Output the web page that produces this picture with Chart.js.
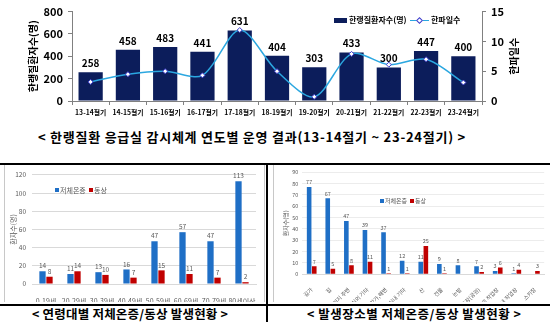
<!DOCTYPE html>
<html>
<head>
<meta charset="utf-8">
<script src="https://cdn.jsdelivr.net/npm/chart.js@4.4.1/dist/chart.umd.min.js"></script>
<style>
  body { margin:0; width:550px; height:322px; overflow:hidden; background:#fff; position:relative;
         font-family:'Noto Sans CJK KR', sans-serif; }
  .abs { position:absolute; }
  .cap { position:absolute; font-weight:bold; color:#000; white-space:nowrap; }
  .lg  { position:absolute; white-space:nowrap; }
  .sq  { position:absolute; }
</style>
</head>
<body>

<!-- top chart -->
<canvas id="seasonChart" class="abs" width="550" height="122" style="left:0;top:0"></canvas>
<div class="sq" style="left:334px;top:18px;width:13px;height:5px;background:#0c1d5b"></div>
<div class="lg" style="left:349px;top:14px;font:bold 8px/12px 'Noto Sans CJK KR';">한랭질환자수(명)</div>
<div class="sq" style="left:410px;top:20px;width:19px;height:0;border-top:1.5px solid #2ba7e0"></div>
<div class="sq" style="left:417px;top:18px;width:3px;height:3px;background:#fff;border:1px solid #3d3dcc;transform:rotate(45deg)"></div>
<div class="lg" style="left:431px;top:14px;font:bold 8px/12px 'Noto Sans CJK KR';">한파일수</div>

<div class="cap" style="left:38px;top:129px;font-size:13px;line-height:16px;letter-spacing:0.75px">&lt; 한랭질환 응급실 감시체계 연도별 운영 결과(13-14절기 ~ 23-24절기) &gt;</div>

<!-- frame lines -->
<div class="abs" style="left:0;top:163px;width:550px;height:2px;background:#000"></div>
<div class="abs" style="left:266px;top:164px;width:1.5px;height:158px;background:#000"></div>
<div class="abs" style="left:0;top:304px;width:550px;height:1.5px;background:#000"></div>

<!-- bottom left -->
<div class="abs" style="left:4px;top:165px;width:261px;height:137px;border-left:1px solid #c8c8c8;border-right:1px solid #c8c8c8;box-sizing:border-box"></div>
<canvas id="ageChart" class="abs" width="260" height="137" style="left:5px;top:165px"></canvas>
<div class="sq" style="left:55px;top:188px;width:4px;height:4px;background:#1f6fc6"></div>
<div class="lg" style="left:60px;top:185px;font:7px/10px 'Noto Sans CJK KR';color:#595959">저체온증</div>
<div class="sq" style="left:89px;top:188px;width:4px;height:4px;background:#c00000"></div>
<div class="lg" style="left:94px;top:185px;font:7px/10px 'Noto Sans CJK KR';color:#595959">동상</div>
<div class="cap" style="left:32px;top:306px;font-size:12.5px;line-height:16px;letter-spacing:0.2px">&lt; 연령대별 저체온증/동상 발생현황 &gt;</div>

<!-- bottom right -->
<div class="abs" style="left:273px;top:165px;width:277px;height:137px;border-left:1px solid #c8c8c8;box-sizing:border-box"></div>
<canvas id="placeChart" class="abs" width="277" height="137" style="left:273px;top:165px"></canvas>
<div class="sq" style="left:380px;top:199px;width:4px;height:4px;background:#1f6fc6"></div>
<div class="lg" style="left:385px;top:196px;font:6px/10px 'Noto Sans CJK KR';color:#595959">저체온증</div>
<div class="sq" style="left:410px;top:199px;width:4px;height:4px;background:#c00000"></div>
<div class="lg" style="left:415px;top:196px;font:6px/10px 'Noto Sans CJK KR';color:#595959">동상</div>
<div class="cap" style="left:307px;top:306px;font-size:12.5px;line-height:16px;letter-spacing:0.5px">&lt; 발생장소별 저체온증/동상 발생현황 &gt;</div>

<script>
// ── Data ─────────────────────────────────────────────────────
const SEASONS   = ['13-14절기','14-15절기','15-16절기','16-17절기','17-18절기','18-19절기',
                   '19-20절기','20-21절기','21-22절기','22-23절기','23-24절기'];
const PATIENTS  = [258, 458, 483, 441, 631, 404, 303, 433, 300, 447, 400];
const COLD_DAYS = [3.2, 4.5, 5.0, 4.3, 11.9, 5.0, 0.7, 7.9, 6.1, 7.0, 3.1];

const AGE_GROUPS = ['0-19세','20-29세','30-39세','40-49세','50-59세','60-69세','70-79세','80세이상'];
const AGE_HYPO   = [14, 11, 13, 16, 47, 57, 47, 113];
const AGE_FROST  = [8, 14, 10, 7, 15, 11, 7, 2];

const PLACES      = ['길가','집','주거지 주변','실외 기타','강가,해변','실내 기타','산','건물','논밭',
                     '운동장(공원)','실외 작업장','실내 작업장','스키장'];
const PLACE_HYPO  = [77, 67, 47, 39, 37, 12, 11, 9, 8, 7, 3, 1, null];
const PLACE_FROST = [7, 5, 8, 11, 1, 1, 25, 1, null, 2, 6, 4, 3];

const FONT = "'Noto Sans CJK KR', sans-serif";
const BLUE = '#1f6fc6', RED = '#c00000', NAVY = '#0c1d5b', GREY = '#595959';

// ── Plugins ──────────────────────────────────────────────────
const valueLabels = {
  id:'valueLabels',
  afterDatasetsDraw(chart, args, opts) {
    const ctx = chart.ctx;
    ctx.save();
    ctx.font = opts.font; ctx.fillStyle = opts.color;
    ctx.textAlign = 'center'; ctx.textBaseline = 'bottom';
    chart.data.datasets.forEach((ds, i) => {
      if (ds.type === 'line') return;
      chart.getDatasetMeta(i).data.forEach((el, j) => {
        if (ds.data[j] == null) return;
        ctx.fillText(ds.data[j], el.x, el.y - opts.gap);
      });
    });
    ctx.restore();
  }
};

// right-hand title, read bottom to top like the left one
const sideTitle = {
  id:'sideTitle',
  afterDraw(chart, args, opts) {
    const ctx = chart.ctx, a = chart.chartArea;
    ctx.save();
    ctx.translate(opts.x, (a.top + a.bottom) / 2);
    ctx.rotate(-Math.PI / 2);
    ctx.font = opts.font; ctx.fillStyle = '#000';
    ctx.textAlign = 'center'; ctx.textBaseline = 'middle';
    ctx.fillText(opts.text, 0, 0);
    ctx.restore();
  }
};

// ── Top: season chart ────────────────────────────────────────
const axisGrid = { drawOnChartArea:false, drawTicks:true, tickLength:4, color:'#808080' };

new Chart(document.getElementById('seasonChart'), {
  type:'bar',
  data:{
    labels: SEASONS,
    datasets:[
      { type:'line', label:'한파일수', data:COLD_DAYS, yAxisID:'y1', order:0,
        borderColor:'#2ba7e0', borderWidth:1.5, tension:0.3,
        pointStyle:'rectRot', pointRadius:2.5, pointBackgroundColor:'#fff',
        pointBorderColor:'#3d3dcc', pointBorderWidth:1 },
      { label:'한랭질환자수(명)', data:PATIENTS, yAxisID:'y', order:1,
        backgroundColor:NAVY, barPercentage:0.65, categoryPercentage:1 }
    ]
  },
  options:{
    responsive:false, animation:false,
    layout:{ padding:{ top:8, right:0, left:0, bottom:0 } },
    plugins:{
      legend:{ display:false }, tooltip:{ enabled:false },
      valueLabels:{ font:`bold 10px ${FONT}`, color:'#000', gap:4 },
      sideTitle:{ text:'한파일수', x:514, font:`bold 10px ${FONT}` }
    },
    scales:{
      x:{ grid:axisGrid, border:{ color:'#808080' },
          ticks:{ font:{ family:FONT, size:6.8, weight:'bold' }, color:'#000', padding:3, maxRotation:0, autoSkip:false },
          afterFit(s){ s.height = 21; } },
      y:{ min:0, max:800, grid:axisGrid, border:{ color:'#808080' },
          ticks:{ stepSize:200, font:{ family:FONT, size:11, weight:'bold' }, color:'#000', padding:5 },
          title:{ display:true, text:'한랭질환자수(명)', color:'#000', padding:{ top:27, bottom:0 },
                  font:{ family:FONT, size:10, weight:'bold' } },
          afterFit(s){ s.width = 72; } },
      y1:{ position:'right', min:0, max:15, grid:axisGrid, border:{ color:'#808080' },
           ticks:{ stepSize:5, font:{ family:FONT, size:11, weight:'bold' }, color:'#000', padding:5 },
           afterFit(s){ s.width = 68; } }
    }
  },
  plugins:[valueLabels, sideTitle]
});

// ── Bottom: two grouped bar charts ───────────────────────────
function groupedBars(id, labels, hypo, frost, cfg) {
  return new Chart(document.getElementById(id), {
    type:'bar',
    data:{
      labels,
      datasets:[
        { label:'저체온증', data:hypo,  backgroundColor:BLUE, barPercentage:0.9, categoryPercentage:cfg.cat },
        { label:'동상',     data:frost, backgroundColor:RED,  barPercentage:0.9, categoryPercentage:cfg.cat }
      ]
    },
    options:{
      responsive:false, animation:false,
      layout:{ padding:{ top:cfg.top, right:cfg.right, left:0, bottom:0 } },
      plugins:{
        legend:{ display:false }, tooltip:{ enabled:false },
        valueLabels:{ font:`${cfg.lblSize}px ${FONT}`, color:GREY, gap:2 }
      },
      scales:{
        x:{ grid:{ display:false }, border:{ color:'#d9d9d9' },
            ticks:{ font:{ family:FONT, size:cfg.xSize }, color:GREY, padding:cfg.xPad,
                    autoSkip:false, minRotation:cfg.rot, maxRotation:cfg.rot },
            afterFit(s){ s.height = cfg.xH; } },
        y:{ min:0, max:cfg.max, border:{ display:false },
            grid:{ color:cfg.gridColor, drawTicks:false },
            ticks:{ stepSize:cfg.step, font:{ family:FONT, size:cfg.ySize }, color:GREY, padding:cfg.yPad },
            title:{ display:true, text:'환자수(명)', color:GREY, padding:{ top:cfg.tPad, bottom:0 },
                    font:{ family:FONT, size:cfg.tSize } },
            afterFit(s){ s.width = cfg.yW; } }
      }
    },
    plugins:[valueLabels]
  });
}

groupedBars('ageChart', AGE_GROUPS, AGE_HYPO, AGE_FROST, {
  cat:0.5, top:9.3, right:9, max:120, step:20, gridColor:'#d9d9d9',
  xSize:7, xPad:5, rot:0, xH:18, ySize:6.5, yPad:6, yW:27,
  tSize:7, tPad:3.8, lblSize:6.5
});

groupedBars('placeChart', PLACES, PLACE_HYPO, PLACE_FROST, {
  cat:0.55, top:6.3, right:5.8, max:90, step:10, gridColor:'#ececec',
  xSize:5.5, xPad:4, rot:45, xH:27.7, ySize:5.5, yPad:4, yW:29.4,
  tSize:6, tPad:9.4, lblSize:5.5
});
</script>
</body>
</html>
